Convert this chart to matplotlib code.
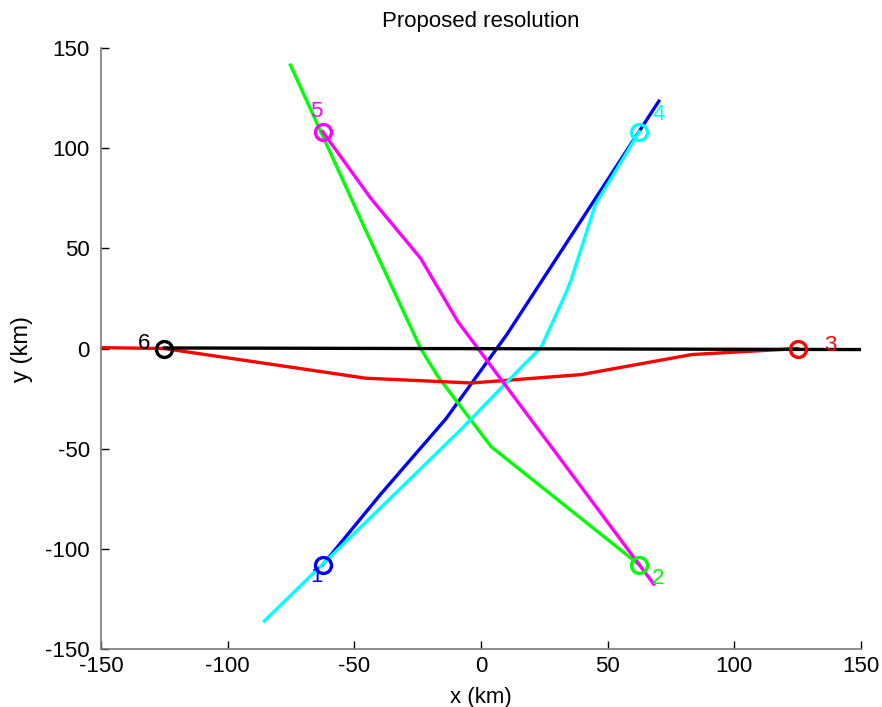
import matplotlib
matplotlib.use("Agg")
import matplotlib.pyplot as plt

plt.rcParams['font.family'] = ['Liberation Sans', 'DejaVu Sans']
plt.rcParams['axes.unicode_minus'] = False

# ----- trajectories (km) -----
x1 = [-62.5, -39.8, -13.8, 10.2, 70.2]
y1 = [-108.0, -73.0, -35.0, 7.0, 123.5]

x2 = [-75.2, -45.5, -23.8, -17.1, 4.0, 62.5]
y2 = [141.5, 59.0, 0.0, -13.8, -49.0, -108.0]

x3 = [-152.0, -125.0, -45.5, -3.8, 39.6, 83.2, 125.0]
y3 = [0.5, 0.0, -14.8, -17.2, -13.0, -3.0, 0.0]

x4 = [-85.5, -7.9, 15.8, 23.7, 33.6, 35.6, 45.2, 62.5]
y4 = [-136.0, -40.4, -9.5, 0.5, 27.9, 34.4, 72.0, 108.3]

x5 = [-62.5, -43.5, -23.8, -9.2, 68.2]
y5 = [108.3, 75.0, 45.0, 13.6, -117.6]

x6 = [-125.0, 150.0]
y6 = [0.3, -0.5]

# circle positions (start points) and labels
cx = [-62.5, 62.5, 125.0, 62.5, -62.5, -125.0]
cy = [-108.3, -108.3, 0.0, 108.3, 108.3, 0.0]
etiquetas = ["1", "2", "3", "4", "5", "6"]
lx = [-65.0, 70.0, 138.0, 70.0, -65.0, -133.0]
ly = [-114.0, -115.0, 1.5, 117.0, 118.5, 2.5]

colores = ["#0000ff", "#00ff00", "#ff0000", "#00ffff", "#ff00ff", "#000000"]
trayectorias = [(x1, y1), (x2, y2), (x3, y3), (x4, y4), (x5, y5), (x6, y6)]

fig = plt.figure(figsize=(8.82, 7.07), dpi=100)
ax = fig.add_axes([0.1145, 0.0820, 0.8617, 0.8500])

for (xs, ys), c in zip(trayectorias, colores):
    ax.plot(xs, ys, color=c, linewidth=2.4)

for i in range(6):
    ax.plot(cx[i], cy[i], marker="o", markersize=11.5, markerfacecolor="none",
            markeredgecolor=colores[i], markeredgewidth=2.4)
    ax.text(lx[i], ly[i], etiquetas[i], color=colores[i], fontsize=16,
            ha="center", va="center")

ax.set_xlim(-150, 150)
ax.set_ylim(-150, 150)
ax.set_xticks([-150, -100, -50, 0, 50, 100, 150])
ax.set_yticks([-150, -100, -50, 0, 50, 100, 150])

for lado in ["top", "right"]:
    ax.spines[lado].set_visible(False)
for lado in ["left", "bottom"]:
    ax.spines[lado].set_color("#7a7a7a")
    ax.spines[lado].set_linewidth(1.2)

ax.tick_params(direction="in", length=6, width=1, colors="black", labelsize=16)
ax.tick_params(axis="x", pad=5)
ax.tick_params(axis="y", pad=8)

ax.set_title("Proposed resolution", fontsize=16, pad=15)
ax.set_xlabel("x (km)", fontsize=16, labelpad=7)
ax.set_ylabel("y (km)", fontsize=17, labelpad=9)

fig.savefig("out.png", dpi=100)
